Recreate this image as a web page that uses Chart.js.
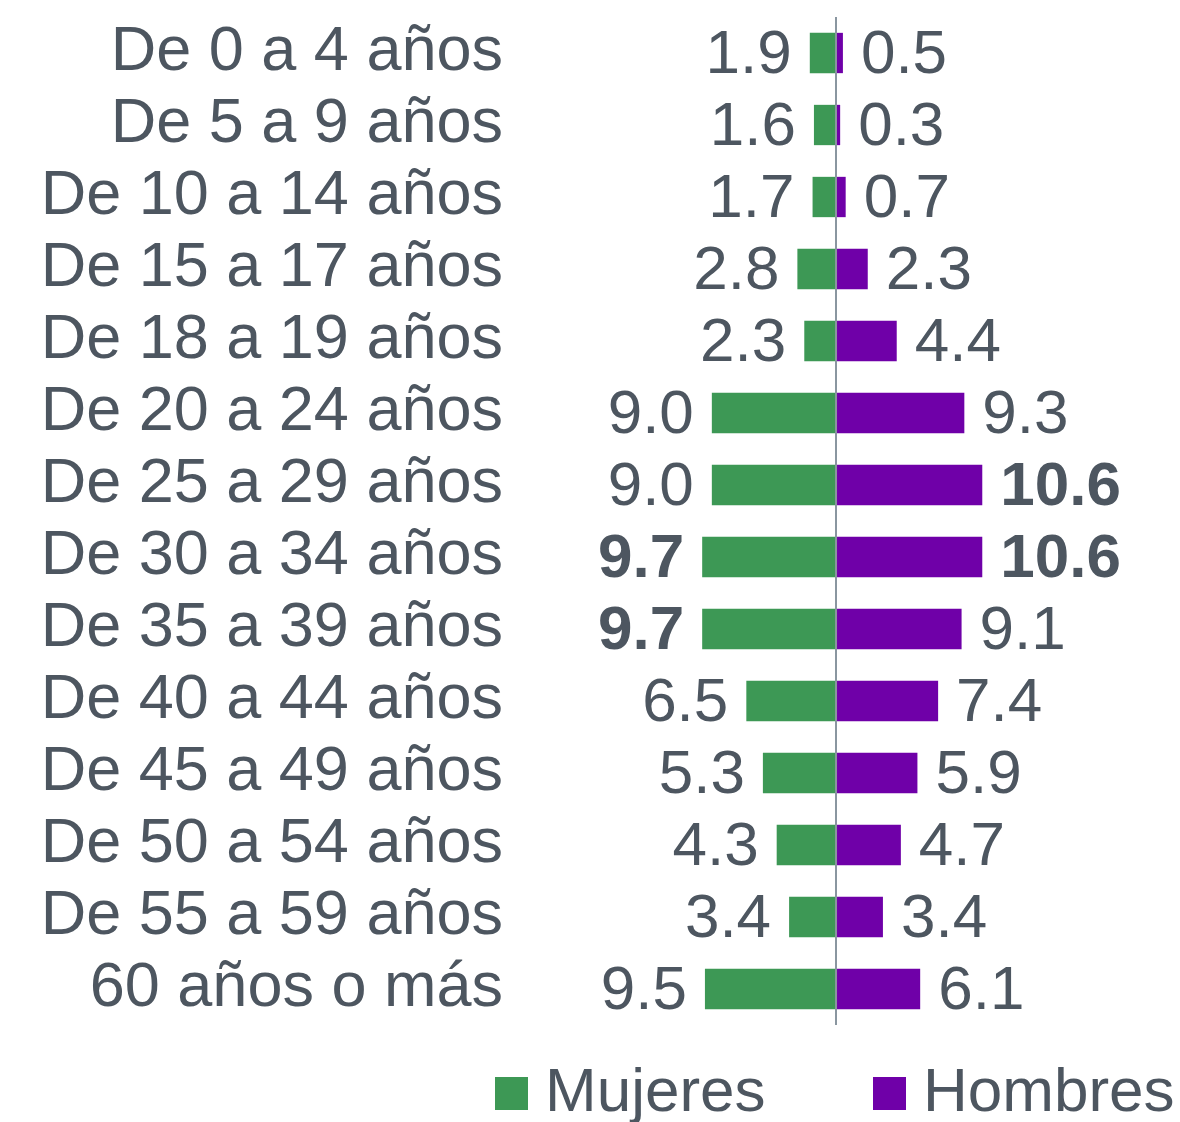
<!DOCTYPE html>
<html>
<head>
<meta charset="utf-8">
<script src="https://cdn.jsdelivr.net/npm/chart.js@4.4.1/dist/chart.umd.min.js"></script>
<style>
  html, body { margin: 0; padding: 0; background: #fff; }
  #wrap { width: 1180px; height: 1122px; position: relative; }
</style>
</head>
<body>
<div id="wrap"><canvas id="pyramid"></canvas></div>
<script>
var categories = [
  "De 0 a 4 años", "De 5 a 9 años", "De 10 a 14 años", "De 15 a 17 años",
  "De 18 a 19 años", "De 20 a 24 años", "De 25 a 29 años", "De 30 a 34 años",
  "De 35 a 39 años", "De 40 a 44 años", "De 45 a 49 años", "De 50 a 54 años",
  "De 55 a 59 años", "60 años o más"
];
var mujeres = [1.9, 1.6, 1.7, 2.8, 2.3, 9.0, 9.0, 9.7, 9.7, 6.5, 5.3, 4.3, 3.4, 9.5];
var hombres = [0.5, 0.3, 0.7, 2.3, 4.4, 9.3, 10.6, 10.6, 9.1, 7.4, 5.9, 4.7, 3.4, 6.1];
var seriesNames = ["Mujeres", "Hombres"];

var textColor = "#4d5660";
var fontFamily = "'Liberation Sans', Arial, sans-serif";
var fontSize = 62;

// values next to each bar, the largest of each series in bold
var valueLabels = {
  id: "valueLabels",
  afterDatasetsDraw: function(chart) {
    var c = chart.ctx;
    c.save();
    c.fillStyle = textColor;
    c.textBaseline = "middle";
    chart.data.datasets.forEach(function(ds, di) {
      var raw = di === 0 ? mujeres : hombres;
      var top = Math.max.apply(null, raw);
      chart.getDatasetMeta(di).data.forEach(function(bar, i) {
        var v = raw[i];
        c.font = (v === top ? "bold " : "") + fontSize + "px " + fontFamily;
        if (di === 0) {
          c.textAlign = "right";
          c.fillText(v.toFixed(1), bar.x - 18, bar.y + 3);
        } else {
          c.textAlign = "left";
          c.fillText(v.toFixed(1), bar.x + 18, bar.y + 3);
        }
      });
    });
    c.restore();
  }
};

var legendBoxes = {
  id: "legendBoxes",
  afterDraw: function(chart) {
    var c = chart.ctx;
    var spots = [495, 873];
    c.save();
    c.font = fontSize + "px " + fontFamily;
    c.textBaseline = "middle";
    c.textAlign = "left";
    chart.data.datasets.forEach(function(ds, di) {
      c.fillStyle = ds.backgroundColor;
      c.fillRect(spots[di], 1077, 33, 33);
      c.fillStyle = textColor;
      c.fillText(ds.label, spots[di] + 50, 1094);
    });
    c.restore();
  }
};

new Chart(document.getElementById("pyramid"), {
  type: "bar",
  data: {
    labels: categories,
    datasets: [{
      label: seriesNames[0],
      data: mujeres.map(function(v) { return -v; }),
      backgroundColor: "#3d9855"
    }, {
      label: seriesNames[1],
      data: hombres,
      backgroundColor: "#6f00a8"
    }]
  },
  options: {
    indexAxis: "y",
    responsive: true,
    maintainAspectRatio: false,
    animation: false,
    categoryPercentage: 1,
    barPercentage: 0.56,
    layout: {
      padding: { top: 17, bottom: 97, left: 0, right: 0 }
    },
    plugins: {
      legend: { display: false },
      tooltip: { enabled: false }
    },
    scales: {
      x: {
        stacked: true,
        min: -17.83,
        max: 24.93,
        afterBuildTicks: function(scale) { scale.ticks = [{ value: 0 }]; },
        afterFit: function(scale) { scale.height = 0; scale.paddingLeft = 0; scale.paddingRight = 0; },
        ticks: { display: false },
        border: { display: false },
        grid: { color: "#8a96a0", lineWidth: 2, drawTicks: false }
      },
      y: {
        stacked: true,
        afterFit: function(scale) {
          scale.width = 590;
          scale.paddingTop = 0;
          scale.paddingBottom = 0;
        },
        border: { display: false },
        grid: { display: false, drawTicks: false },
        ticks: {
          autoSkip: false,
          padding: 87,
          color: textColor,
          font: { family: fontFamily, size: 63 }
        }
      }
    }
  },
  plugins: [valueLabels, legendBoxes]
});
</script>
</body>
</html>
